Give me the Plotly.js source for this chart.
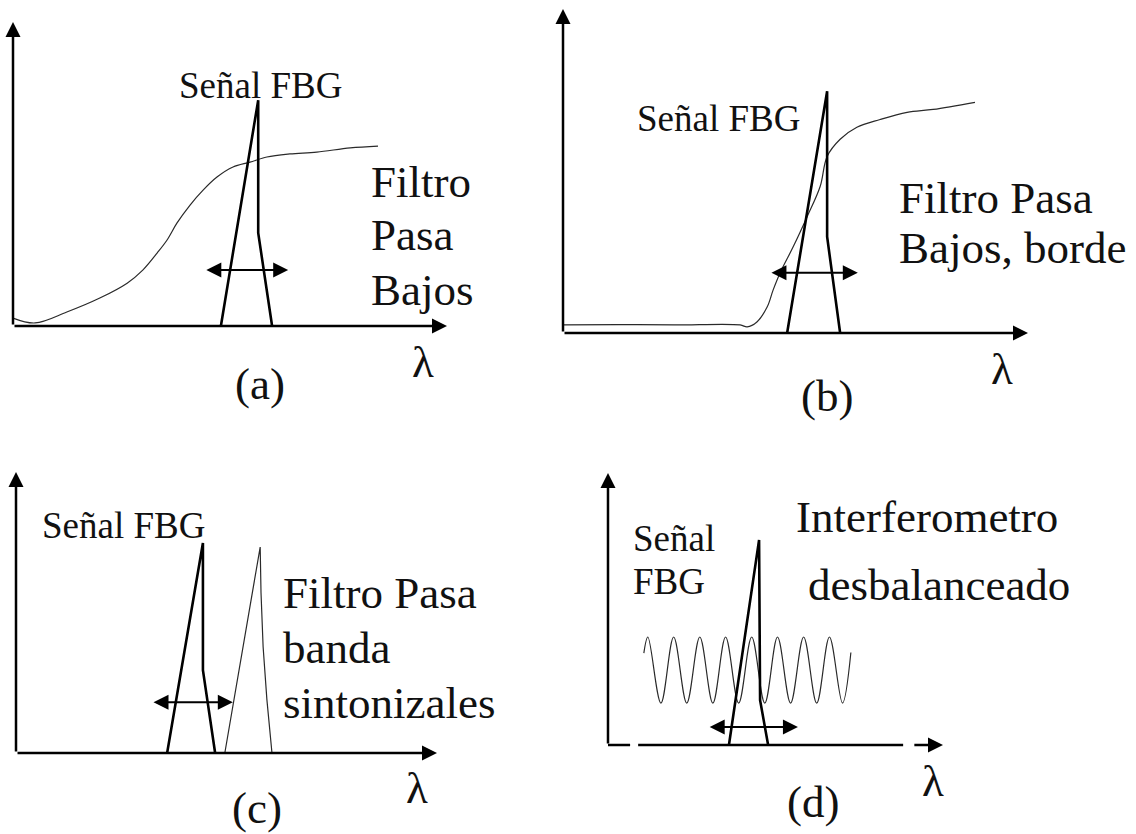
<!DOCTYPE html>
<html>
<head>
<meta charset="utf-8">
<script src="https://cdn.plot.ly/plotly-3.0.1.min.js"></script>
<style>
  html, body { margin: 0; padding: 0; background: #ffffff; }
  #chart { width: 1136px; height: 834px; }
</style>
</head>
<body>
<div id="chart"></div>
<script>
// ---- (a) Filtro pasa bajos: smooth edge + FBG reflection peak ----
const filterA_x = [0, 0.51, 1.24, 2.0, 2.63, 2.99, 3.32, 3.55, 3.78, 4.08, 4.38, 4.7, 5.07, 5.46, 5.85, 6.38, 7.0, 7.77, 8.41];
const filterA_y = [0.26, 0.10, 0.46, 0.92, 1.41, 1.84, 2.40, 2.83, 3.39, 3.98, 4.47, 4.9, 5.23, 5.39, 5.56, 5.66, 5.72, 5.86, 5.92];
const fbgA_x = [4.79, 5.65, 5.65, 5.97];
const fbgA_y = [0, 7.43, 3.06, 0];
const shiftA_x = [4.42, 6.34];
const shiftA_y = 1.84;

// ---- (b) Filtro pasa bajos, borde: sharp edge ----
const filterB_x = [0, 1.2, 2.4, 3.81, 3.96, 4.17, 4.39, 4.52, 4.67, 4.95, 5.25, 5.53, 5.68, 5.96, 6.32, 6.82, 7.4, 7.96, 8.86];
const filterB_y = [0.25, 0.26, 0.25, 0.25, 0.19, 0.34, 0.8, 1.33, 1.86, 2.66, 3.59, 4.52, 5.45, 5.98, 6.35, 6.59, 6.81, 6.9, 7.12];
const fbgB_x = [4.82, 5.68, 5.68, 5.96];
const fbgB_y = [0, 7.46, 2.97, 0];
const shiftB_x = [4.45, 6.34];
const shiftB_y = 1.86;

// ---- (c) Filtro pasa banda sintonizable ----
const fbgC_x = [3.59, 4.44, 4.44, 4.73];
const fbgC_y = [0, 7.47, 2.95, 0];
const filterC_x = [4.96, 5.80, 5.82, 5.87, 5.96, 6.08];
const filterC_y = [0, 7.33, 5.69, 3.77, 1.89, 0];
const shiftC_x = [3.23, 5.15];
const shiftC_y = 1.81;

// ---- (d) Interferometro desbalanceado: fringes + FBG peak ----
const fringeD_x = [1.07, 1.19, 1.58, 1.96, 2.35, 2.74, 3.13, 3.51, 3.90, 4.29, 4.68, 5.06, 5.45, 5.84, 6.23, 6.61, 7.00, 7.25];
const fringeD_y = [3.38, 3.97, 1.54, 3.97, 1.54, 3.97, 1.54, 3.97, 1.54, 3.97, 1.54, 3.97, 1.54, 3.97, 1.54, 3.97, 1.54, 3.40];
const fbgD_x = [3.61, 4.51, 4.54, 4.78];
const fbgD_y = [0, 7.54, 1.65, 0];
const shiftD_x = [2.99, 5.67];
const shiftD_y = 0.66;
// dashed-looking wavelength axis of panel (d)
const axisD_x = [0, 0.66, null, 0.90, 8.81];
const axisD_y = [0, 0, null, 0, 0];
const axisD_arrow = [9.10, 10];

// Axis extents shared by the four sketches
const axisLen = 10;

const W = 1136, H = 834;
const panels = [
  { ox: 13,  oy: 326, ux: 43.4, uy: 30.4 },
  { ox: 563, oy: 333, ux: 46.5, uy: 32.4 },
  { ox: 16,  oy: 753, ux: 42.1, uy: 28.1 },
  { ox: 608, oy: 745, ux: 33.5, uy: 27.2 }
];
const XR = [-0.25, 10.5], YR = [-1, 10.2];
const SERIF = "'Liberation Serif', 'Times New Roman', serif";
const INK = '#111111';

const layout = {
  width: W, height: H,
  margin: { l: 0, r: 0, t: 0, b: 0 },
  paper_bgcolor: '#ffffff', plot_bgcolor: 'rgba(0,0,0,0)',
  showlegend: false,
  annotations: []
};

const suffix = i => (i === 0 ? '' : String(i + 1));
panels.forEach((p, i) => {
  const k = suffix(i);
  layout['xaxis' + k] = {
    domain: [(p.ox + XR[0] * p.ux) / W, (p.ox + XR[1] * p.ux) / W],
    range: XR, visible: false, fixedrange: true, anchor: 'y' + k
  };
  layout['yaxis' + k] = {
    domain: [1 - (p.oy - YR[0] * p.uy) / H, 1 - (p.oy - YR[1] * p.uy) / H],
    range: YR, visible: false, fixedrange: true, anchor: 'x' + k
  };
});

function arrow(i, x0, y0, x1, y1, both, width, size) {
  const k = suffix(i);
  const a = {
    xref: 'x' + k, yref: 'y' + k, axref: 'x' + k, ayref: 'y' + k,
    x: x1, y: y1, ax: x0, ay: y0,
    text: '', showarrow: true,
    arrowhead: 2, arrowsize: size, arrowwidth: width, arrowcolor: '#000000',
    standoff: 0, startstandoff: 0
  };
  if (both) {
    a.arrowside = 'end+start';
    a.startarrowhead = 2;
    a.startarrowsize = size;
  }
  layout.annotations.push(a);
}

function label(text, px, py, size, xanchor) {
  layout.annotations.push({
    xref: 'paper', yref: 'paper', x: px / W, y: 1 - py / H,
    text: text, showarrow: false, xanchor: xanchor || 'center', yanchor: 'middle',
    borderpad: 0, font: { family: SERIF, size: size, color: INK }
  });
}

// axes with arrow heads
[0, 1, 2, 3].forEach(i => {
  arrow(i, 0, 0, 0, axisLen, false, 2.5, 1.2);
  if (i !== 3) arrow(i, 0, 0, axisLen, 0, false, 2.5, 1.2);
});
arrow(3, axisD_arrow[0], 0, axisD_arrow[1], 0, false, 2.5, 1.2);

// shift (tuning) arrows
arrow(0, shiftA_x[0], shiftA_y, shiftA_x[1], shiftA_y, true, 2, 1.5);
arrow(1, shiftB_x[0], shiftB_y, shiftB_x[1], shiftB_y, true, 2, 1.5);
arrow(2, shiftC_x[0], shiftC_y, shiftC_x[1], shiftC_y, true, 2, 1.5);
arrow(3, shiftD_x[0], shiftD_y, shiftD_x[1], shiftD_y, true, 2, 1.5);

const thin = { color: '#2a2a2a', width: 1.2 };
const thick = { color: '#000000', width: 2.6 };
function line(i, x, y, style, smooth) {
  const k = suffix(i);
  return {
    type: 'scatter', mode: 'lines', x: x, y: y,
    xaxis: 'x' + k, yaxis: 'y' + k,
    line: Object.assign({ shape: smooth ? 'spline' : 'linear' }, style, smooth ? { smoothing: 1 } : {}),
    hoverinfo: 'skip', connectgaps: false
  };
}

const data = [
  line(0, filterA_x, filterA_y, thin, true),
  line(0, fbgA_x, fbgA_y, thick, false),
  line(1, filterB_x, filterB_y, thin, true),
  line(1, fbgB_x, fbgB_y, thick, false),
  line(2, fbgC_x, fbgC_y, thick, false),
  line(2, filterC_x, filterC_y, thin, false),
  line(3, fringeD_x, fringeD_y, thin, true),
  line(3, fbgD_x, fbgD_y, thick, false),
  line(3, axisD_x, axisD_y, { color: '#000000', width: 2.5 }, false)
];

// texts
label('Señal FBG', 260, 85, 37);
label('Filtro', 370, 182, 45, 'left');
label('Pasa', 370, 235, 45, 'left');
label('Bajos', 370, 290, 45, 'left');
label('λ', 423, 362, 45);
label('(a)', 260, 384, 45);

label('Señal FBG', 718, 118, 37);
label('Filtro Pasa', 898, 198, 45, 'left');
label('Bajos, borde', 898, 248, 45, 'left');
label('λ', 1002, 369, 45);
label('(b)', 827, 396, 45);

label('Señal FBG', 123, 525, 37);
label('Filtro Pasa', 282, 593, 45, 'left');
label('banda', 282, 648, 45, 'left');
label('sintonizales', 282, 703, 45, 'left');
label('λ', 417, 788, 45);
label('(c)', 257, 808, 45);

label('Señal', 632, 538, 37, 'left');
label('FBG', 632, 581, 37, 'left');
label('Interferometro', 795, 517, 45, 'left');
label('desbalanceado', 807, 585, 45, 'left');
label('λ', 933, 781, 45);
label('(d)', 813, 802, 45);

Plotly.newPlot('chart', data, layout, { staticPlot: true, displayModeBar: false });
</script>
</body>
</html>
